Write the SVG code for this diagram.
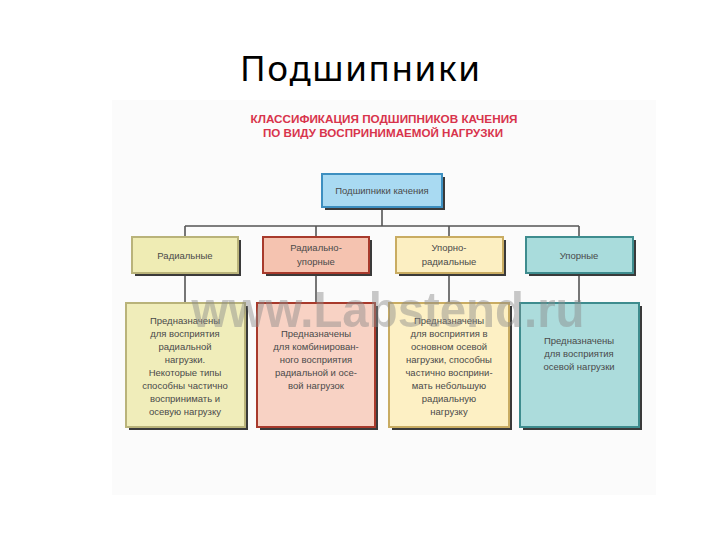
<svg xmlns="http://www.w3.org/2000/svg" width="720" height="540" viewBox="0 0 720 540">
<style>
.t{font-family:"Liberation Sans",Arial,sans-serif;font-size:9.5px;fill:#4a4a4a;text-anchor:middle}
.h{font-family:"Liberation Sans",Arial,sans-serif;font-size:10.5px;font-weight:bold;fill:#d8344c;text-anchor:middle}
.sh{fill:#3a3a3a}
.ln{stroke:#555;stroke-width:1.6;fill:none}
</style>
<rect width="720" height="540" fill="#fff"/>
<rect x="112" y="100" width="544" height="395" fill="#fbfbfb"/>
<text x="360" y="81" font-family="Noto Sans,Open Sans,sans-serif" font-size="35" fill="#000" text-anchor="middle" textLength="240" lengthAdjust="spacing">Подшипники</text>
<text class="h" x="384" y="123" textLength="267" lengthAdjust="spacingAndGlyphs">КЛАССИФИКАЦИЯ  ПОДШИПНИКОВ КАЧЕНИЯ</text>
<text class="h" x="383" y="137" textLength="240" lengthAdjust="spacingAndGlyphs">ПО ВИДУ ВОСПРИНИМАЕМОЙ НАГРУЗКИ</text>
<g id="connectors">
<path class="ln" d="M382 207V226M185 226H579M185 226V237M316 226V237M449 226V237M579 226V237M185 273V303M316 273V303M449 273V303M579 273V303"/>
</g>
<g id="root">
<rect class="sh" x="325" y="177" width="120" height="33"/>
<rect x="322" y="174" width="120" height="33" fill="#a9daf2" stroke="#3d8fc0" stroke-width="2"/>
<text class="t" x="382" y="194" font-size="10">Подшипники качения</text>
</g>
<g id="radial">
<rect class="sh" x="135" y="240" width="106" height="36"/>
<rect x="132" y="237" width="106" height="36" fill="#efecb4" stroke="#b9b37a" stroke-width="2"/>
<text class="t" x="185" y="259">Радиальные</text>
</g>
<g id="radial-thrust">
<rect class="sh" x="266" y="240" width="106" height="36"/>
<rect x="263" y="237" width="106" height="36" fill="#f5c3b0" stroke="#a83a2c" stroke-width="2"/>
<text class="t" x="316" y="251">Радиально-</text>
<text class="t" x="316" y="265">упорные</text>
</g>
<g id="thrust-radial">
<rect class="sh" x="399" y="240" width="107" height="36"/>
<rect x="396" y="237" width="107" height="36" fill="#fcefc2" stroke="#c9ac62" stroke-width="2"/>
<text class="t" x="449" y="251">Упорно-</text>
<text class="t" x="449" y="265">радиальные</text>
</g>
<g id="thrust">
<rect class="sh" x="529" y="240" width="107" height="36"/>
<rect x="526" y="237" width="107" height="36" fill="#a9dcdc" stroke="#3e8c8e" stroke-width="2"/>
<text class="t" x="579" y="259">Упорные</text>
</g>
<g id="radial-desc">
<rect class="sh" x="129" y="306" width="119" height="124"/>
<rect x="126" y="303" width="119" height="124" fill="#f0edba" stroke="#b9b37a" stroke-width="2"/>
<text class="t" x="185" y="324">Предназначены</text>
<text class="t" x="185" y="337">для восприятия</text>
<text class="t" x="185" y="350">радиальной</text>
<text class="t" x="185" y="363">нагрузки.</text>
<text class="t" x="185" y="376">Некоторые типы</text>
<text class="t" x="185" y="389">способны частично</text>
<text class="t" x="185" y="402">воспринимать и</text>
<text class="t" x="185" y="415">осевую нагрузку</text>
</g>
<g id="radial-thrust-desc">
<rect class="sh" x="260" y="306" width="118" height="124"/>
<rect x="257" y="303" width="118" height="124" fill="#f8d2c4" stroke="#a83a2c" stroke-width="2"/>
<text class="t" x="316" y="337">Предназначены</text>
<text class="t" x="316" y="350">для комбинирован-</text>
<text class="t" x="316" y="363">ного восприятия</text>
<text class="t" x="316" y="376">радиальной и осе-</text>
<text class="t" x="316" y="389">вой нагрузок</text>
</g>
<g id="thrust-radial-desc">
<rect class="sh" x="392" y="306" width="120" height="124"/>
<rect x="389" y="303" width="120" height="124" fill="#fdf0c4" stroke="#c9ac62" stroke-width="2"/>
<text class="t" x="449" y="324">Предназначены</text>
<text class="t" x="449" y="337">для восприятия в</text>
<text class="t" x="449" y="350">основном осевой</text>
<text class="t" x="449" y="363">нагрузки, способны</text>
<text class="t" x="449" y="376">частично восприни-</text>
<text class="t" x="449" y="389">мать небольшую</text>
<text class="t" x="449" y="402">радиальную</text>
<text class="t" x="449" y="415">нагрузку</text>
</g>
<g id="thrust-desc">
<rect class="sh" x="523" y="306" width="119" height="124"/>
<rect x="520" y="303" width="119" height="124" fill="#acdcdc" stroke="#3e8c8e" stroke-width="2"/>
<text class="t" x="579" y="344">Предназначены</text>
<text class="t" x="579" y="357">для восприятия</text>
<text class="t" x="579" y="370">осевой нагрузки</text>
</g>
<text x="388" y="327" font-family="Liberation Sans,Arial,sans-serif" font-size="50" font-weight="bold" fill="#8a8a8a" opacity="0.45" text-anchor="middle" textLength="393" lengthAdjust="spacingAndGlyphs">www.Labstend.ru</text>
</svg>
